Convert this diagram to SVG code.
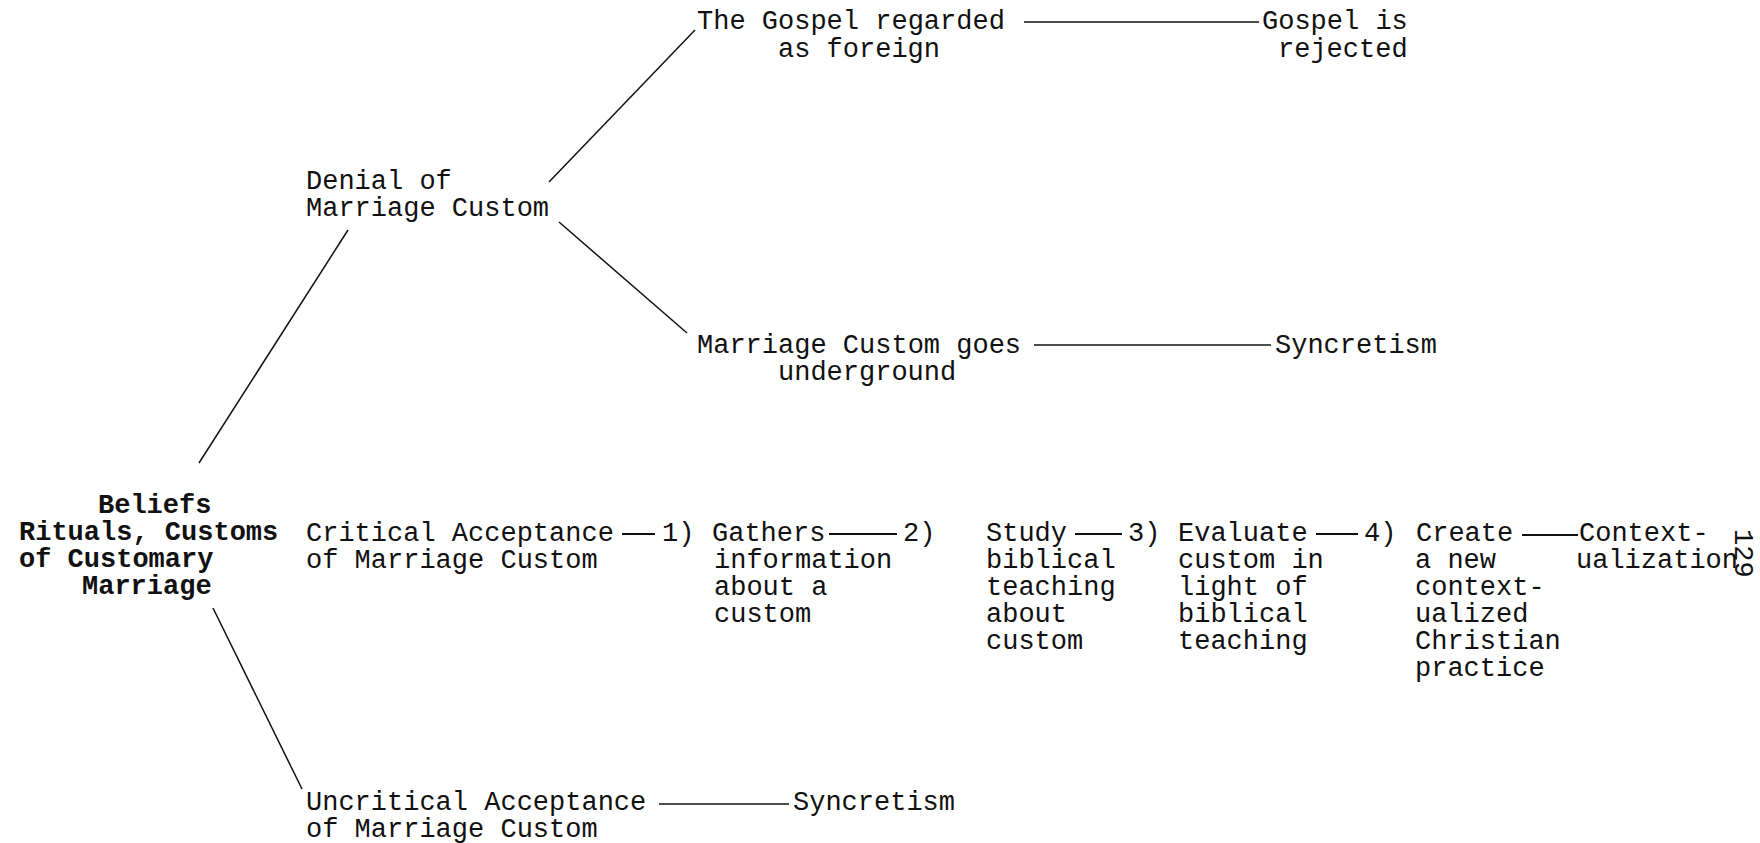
<svg xmlns="http://www.w3.org/2000/svg" width="1760" height="843" viewBox="0 0 1760 843">
<style>
text{font-family:"Liberation Mono","DejaVu Sans Mono",monospace;font-size:27px;fill:#111}
.b{font-weight:bold}
.c line{stroke:#111;stroke-width:1.5;fill:none}
.c .d{stroke-width:2}
</style>
<rect width="1760" height="843" fill="#fff"/>
<g id="connectors" class="c">
<line x1="549" y1="182" x2="695" y2="30"/>
<line x1="559" y1="222" x2="687" y2="333"/>
<line x1="199" y1="463" x2="348" y2="230"/>
<line x1="213" y1="608" x2="302" y2="789"/>
<line x1="1024" y1="22" x2="1259" y2="22"/>
<line x1="1034" y1="345" x2="1271" y2="345"/>
<line x1="659" y1="804" x2="789" y2="804"/>
<line class="d" x1="622" y1="534" x2="655" y2="534"/>
<line class="d" x1="829" y1="534" x2="897" y2="534"/>
<line class="d" x1="1075" y1="534" x2="1122" y2="534"/>
<line class="d" x1="1316" y1="534" x2="1358" y2="534"/>
<line class="d" x1="1522" y1="535" x2="1578" y2="535"/>
</g>
<g id="root"><text class="b"><tspan x="98" y="513">Beliefs</tspan><tspan x="19" y="540">Rituals, Customs</tspan><tspan x="19" y="567">of Customary</tspan><tspan x="82" y="594">Marriage</tspan></text></g>
<g id="denial"><text><tspan x="306" y="189">Denial of</tspan><tspan x="306" y="216">Marriage Custom</tspan></text></g>
<g id="foreign"><text><tspan x="697" y="29">The Gospel regarded</tspan><tspan x="778" y="57">as foreign</tspan></text></g>
<g id="rejected"><text><tspan x="1262" y="29">Gospel is</tspan><tspan x="1278" y="57">rejected</tspan></text></g>
<g id="underground"><text><tspan x="697" y="353">Marriage Custom goes</tspan><tspan x="778" y="380">underground</tspan></text></g>
<g id="syncretism1"><text x="1275" y="353">Syncretism</text></g>
<g id="critical"><text><tspan x="306" y="541">Critical Acceptance</tspan><tspan x="306" y="568">of Marriage Custom</tspan></text></g>
<g id="step1"><text x="662" y="541">1)</text></g>
<g id="gathers"><text><tspan x="712" y="541">Gathers</tspan><tspan x="714" y="568">information</tspan><tspan x="714" y="595">about a</tspan><tspan x="714" y="622">custom</tspan></text></g>
<g id="step2"><text x="903" y="541">2)</text></g>
<g id="study"><text><tspan x="986" y="541">Study</tspan><tspan x="986" y="568">biblical</tspan><tspan x="986" y="595">teaching</tspan><tspan x="986" y="622">about</tspan><tspan x="986" y="649">custom</tspan></text></g>
<g id="step3"><text x="1128" y="541">3)</text></g>
<g id="evaluate"><text><tspan x="1178" y="541">Evaluate</tspan><tspan x="1178" y="568">custom in</tspan><tspan x="1178" y="595">light of</tspan><tspan x="1178" y="622">biblical</tspan><tspan x="1178" y="649">teaching</tspan></text></g>
<g id="step4"><text x="1364" y="541">4)</text></g>
<g id="create"><text><tspan x="1416" y="541">Create</tspan><tspan x="1415" y="568">a new</tspan><tspan x="1415" y="595">context-</tspan><tspan x="1415" y="622">ualized</tspan><tspan x="1415" y="649">Christian</tspan><tspan x="1415" y="676">practice</tspan></text></g>
<g id="contextualization"><text><tspan x="1579" y="541">Context-</tspan><tspan x="1576" y="568">ualization</tspan></text></g>
<g id="uncritical"><text><tspan x="306" y="810">Uncritical Acceptance</tspan><tspan x="306" y="837">of Marriage Custom</tspan></text></g>
<g id="syncretism2"><text x="793" y="810">Syncretism</text></g>
<g id="page"><text transform="translate(1735,529) rotate(90)">129</text></g>
</svg>
